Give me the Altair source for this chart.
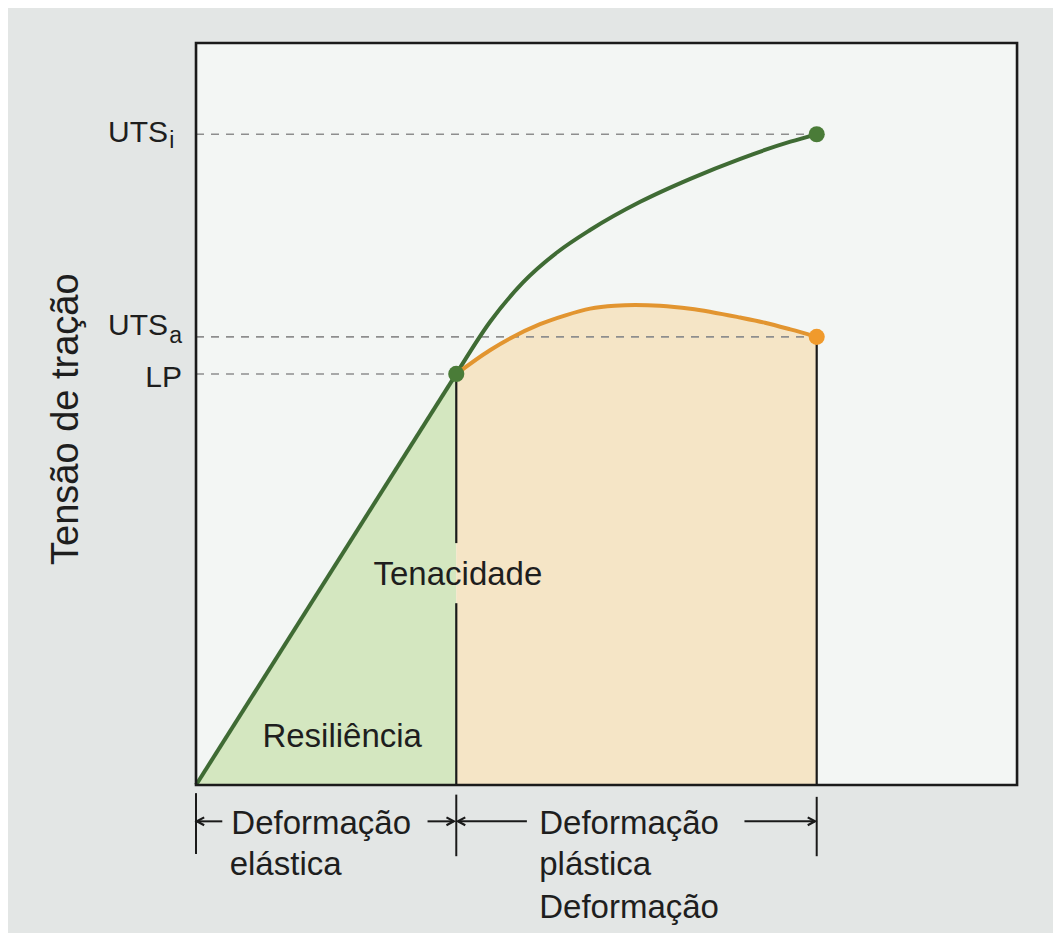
import altair as alt
import pandas as pd

# ---------------- data (strain / stress in % of frame) ----------------
elastic_strain = [0.0, 31.7]
elastic_stress = [0.0, 55.4]

ideal_strain = [31.7, 35.8, 39.8, 44.0, 48.0, 54.1, 60.2, 66.3, 72.4, 75.6]
ideal_stress = [55.4, 62.4, 67.7, 71.8, 74.8, 78.6, 81.7, 84.4, 86.7, 87.7]

actual_strain = [31.7, 35.8, 41.9, 45.0, 48.0, 51.0, 53.5, 56.5, 60.2, 66.3, 69.3, 72.4, 75.6]
actual_stress = [55.4, 58.6, 62.1, 63.3, 64.2, 64.6, 64.7, 64.6, 64.2, 63.0, 62.3, 61.4, 60.4]

key_names = ["LP", "UTSi", "UTSa"]
key_strain = [31.7, 75.6, 75.6]
key_stress = [55.4, 87.7, 60.4]

# label texts
stress_labels_main = ["UTS", "UTS", "LP"]
stress_labels_sub = ["i", "a"]
inner_labels = ["Tenacidade", "Resiliência"]
bottom_labels = ["Deformação", "elástica", "Deformação", "plástica", "Deformação"]
y_title = "Tensão de tração"

# annotation anchors (data units)
main_lbl_x = [-3.4, -3.4, -1.7]
main_lbl_y = [86.6, 60.6, 53.6]
sub_lbl_x = [-3.25, -3.25]
sub_lbl_y = [85.8, 59.6]
inner_x = [31.9, 17.8]
inner_y = [27.0, 5.1]
bottom_x = [4.3, 4.1, 41.8, 41.8, 41.8]
bottom_y = [-6.6, -12.2, -6.6, -12.2, -17.9]
ytitle_x = [-15.7]
ytitle_y = [49.3]

tick_x = [0.0, 31.7, 75.6]
tick_top = [-1.1, -1.3, -1.6]
tick_bot = [-9.3, -9.6, -9.6]

arrow_y = -4.9
arrow_from = [3.2, 28.2, 40.3, 66.8]
arrow_to = [0.1, 31.4, 31.9, 75.4]
arrow_dir = ["left", "right", "left", "right"]

# gap in the vertical LP line around the "Tenacidade" label
lp_seg_top = [55.4, 24.5]
lp_seg_bot = [32.6, 0.0]

# ---------------- scales ----------------
W, H = 1045, 925
xs = alt.Scale(domain=[-22.90, 104.38], nice=False, zero=False)
ys = alt.Scale(domain=[-19.95, 104.72], nice=False, zero=False)

def X(f="x"):
    return alt.X(f"{f}:Q", scale=xs, axis=None)

def Y(f="y"):
    return alt.Y(f"{f}:Q", scale=ys, axis=None)

FONT = "Liberation Sans"
TXT = "#1e1e1e"

# ---------------- tables ----------------
frame_df = pd.DataFrame({"x": [0.0], "x2": [100.0], "y": [0.0], "y2": [100.0]})
el_df = pd.DataFrame({"x": elastic_strain, "y": elastic_stress})
id_df = pd.DataFrame({"x": ideal_strain, "y": ideal_stress})
ac_df = pd.DataFrame({"x": actual_strain, "y": actual_stress})
key_df = pd.DataFrame({"name": key_names, "x": key_strain, "y": key_stress})
dash_df = pd.DataFrame({"x": [0.0] * 3, "x2": key_strain, "y": key_stress})

# ---------------- layers ----------------
frame_fill = alt.Chart(frame_df).mark_rect(fill="#f3f6f4").encode(
    x=X(), x2="x2:Q", y=Y(), y2="y2:Q")

green_area = alt.Chart(el_df).mark_area(color="#d4e7c0", opacity=1).encode(
    x=X(), y=Y(), y2=alt.datum(0))
orange_area = alt.Chart(ac_df).mark_area(
    color="#f5e5c6", opacity=1, interpolate="monotone").encode(
    x=X(), y=Y(), y2=alt.datum(0))

dashes = alt.Chart(dash_df).mark_rule(
    color="#8e8e8e", strokeDash=[8, 7], strokeWidth=1.6).encode(
    x=X(), x2="x2:Q", y=Y())

lp_df = pd.DataFrame({"x": [31.7, 31.7], "y": lp_seg_top, "y2": lp_seg_bot})
ut_df = pd.DataFrame({"x": [75.6], "y": [60.4], "y2": [0.0]})
vlines = alt.Chart(pd.concat([lp_df, ut_df])).mark_rule(
    color="#1a1a1a", strokeWidth=2.2).encode(x=X(), y=Y(), y2="y2:Q")

elastic_line = alt.Chart(el_df).mark_line(
    color="#3f6b34", strokeWidth=4).encode(x=X(), y=Y())
green_line = alt.Chart(id_df).mark_line(
    color="#3f6b34", strokeWidth=4, interpolate="monotone").encode(
    x=X(), y=Y())
orange_line = alt.Chart(ac_df).mark_line(
    color="#e29530", strokeWidth=4, interpolate="monotone").encode(
    x=X(), y=Y())

points = alt.Chart(key_df).mark_point(filled=True, size=260, opacity=1).encode(
    x=X(), y=Y(),
    color=alt.Color("name:N", scale=alt.Scale(
        domain=key_names, range=["#4a7c38", "#4a7c38", "#f09a2c"]), legend=None))

# bottom annotation: ticks and arrows
tick_df = pd.DataFrame({"x": tick_x, "y": tick_top, "y2": tick_bot})
ticks = alt.Chart(tick_df).mark_rule(color="#1a1a1a", strokeWidth=2).encode(
    x=X(), y=Y(), y2="y2:Q")
arr_df = pd.DataFrame({"x": arrow_from, "x2": arrow_to,
                       "y": [arrow_y] * 4, "dir": arrow_dir})
shafts = alt.Chart(arr_df).mark_rule(color="#1a1a1a", strokeWidth=2).encode(
    x=X(), x2="x2:Q", y=Y())
head_l = alt.Chart(arr_df[arr_df.dir == "left"]).mark_point(
    shape="M 1.4 -0.75 L 0 0 L 1.4 0.75", filled=False, color="#1a1a1a",
    strokeWidth=2.2, size=110, opacity=1).encode(x=X("x2"), y=Y())
head_r = alt.Chart(arr_df[arr_df.dir == "right"]).mark_point(
    shape="M -1.4 -0.75 L 0 0 L -1.4 0.75", filled=False, color="#1a1a1a",
    strokeWidth=2.2, size=110, opacity=1).encode(x=X("x2"), y=Y())

# texts
main_df = pd.DataFrame({"x": main_lbl_x, "y": main_lbl_y, "t": stress_labels_main})
main_txt = alt.Chart(main_df).mark_text(
    font=FONT, fontSize=30, align="right", baseline="alphabetic", color=TXT).encode(
    x=X(), y=Y(), text="t:N")
sub_df = pd.DataFrame({"x": sub_lbl_x, "y": sub_lbl_y, "t": stress_labels_sub})
sub_txt = alt.Chart(sub_df).mark_text(
    font=FONT, fontSize=23, align="left", baseline="alphabetic", color=TXT).encode(
    x=X(), y=Y(), text="t:N")
inner_df = pd.DataFrame({"x": inner_x, "y": inner_y, "t": inner_labels})
inner_txt = alt.Chart(inner_df).mark_text(
    font=FONT, fontSize=33, align="center", baseline="alphabetic", color=TXT).encode(
    x=X(), y=Y(), text="t:N")
bot_df = pd.DataFrame({"x": bottom_x, "y": bottom_y, "t": bottom_labels})
bot_txt = alt.Chart(bot_df).mark_text(
    font=FONT, fontSize=33, align="left", baseline="alphabetic", color=TXT).encode(
    x=X(), y=Y(), text="t:N")
yt_df = pd.DataFrame({"x": ytitle_x, "y": ytitle_y, "t": [y_title]})
yt_txt = alt.Chart(yt_df).mark_text(
    font=FONT, fontSize=38, angle=270, align="center", baseline="middle",
    color=TXT).encode(x=X(), y=Y(), text="t:N")

frame_border = alt.Chart(frame_df).mark_rect(
    fill=None, fillOpacity=0, stroke="#1a1a1a", strokeWidth=2.6).encode(
    x=X(), x2="x2:Q", y=Y(), y2="y2:Q")

chart = alt.layer(
    frame_fill, green_area, orange_area, dashes, vlines, elastic_line,
    green_line, orange_line, points, ticks, shafts, head_l, head_r,
    main_txt, sub_txt, inner_txt, bot_txt, yt_txt, frame_border,
).properties(
    width=W, height=H,
    autosize=alt.AutoSizeParams(type="none"),
    padding=0,
    background="#e3e6e5",
).configure_view(strokeWidth=0)

chart.save("out.html", embed_options={"renderer": "svg", "actions": False})
